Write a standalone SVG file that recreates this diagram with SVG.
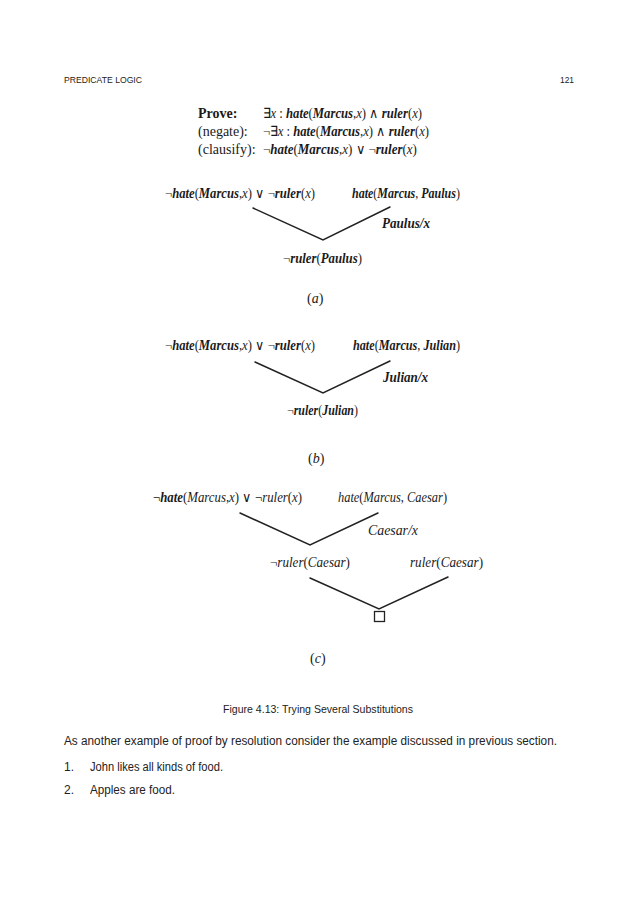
<svg xmlns="http://www.w3.org/2000/svg" width="638" height="903" viewBox="0 0 638 903">
<style>
.sans{font-family:"Liberation Sans",Arial,sans-serif;fill:#222}
.f{font-family:"Liberation Serif","Times New Roman",serif;font-size:14px;fill:#1a1a1a}
.i{font-style:italic}
.b{font-weight:bold}
.lbl{font-family:"Liberation Serif","Times New Roman",serif;font-size:14px;fill:#1a1a1a}
.edge{stroke:#222;stroke-width:1.5;fill:none;stroke-linecap:round}
</style>
<rect width="638" height="903" fill="#fff"/>
<g id="header">
<text class="sans" x="64" y="83" font-size="9.5" textLength="78" lengthAdjust="spacingAndGlyphs">PREDICATE LOGIC</text>
<text class="sans" x="560" y="83" font-size="9.5" textLength="14" lengthAdjust="spacingAndGlyphs">121</text>
</g>
<g id="prove">
<text class="lbl b" x="198" y="118">Prove:</text>
<text class="lbl" x="198" y="136">(negate):</text>
<text class="lbl" x="198" y="154">(clausify):</text>
<text class="f" transform="translate(263,118) scale(0.916,1)" textLength="173.6" lengthAdjust="spacingAndGlyphs">∃<tspan class="i">x</tspan> : <tspan class="i b">hate</tspan>(<tspan class="i b">Marcus</tspan>,<tspan class="i">x</tspan>) ∧ <tspan class="i b">ruler</tspan>(<tspan class="i">x</tspan>)</text>
<text class="f" transform="translate(263,136) scale(0.915,1)" textLength="181.4" lengthAdjust="spacingAndGlyphs">¬∃<tspan class="i">x</tspan> : <tspan class="i b">hate</tspan>(<tspan class="i b">Marcus</tspan>,<tspan class="i">x</tspan>) ∧ <tspan class="i b">ruler</tspan>(<tspan class="i">x</tspan>)</text>
<text class="f" transform="translate(263,154) scale(0.94,1)" textLength="163.8" lengthAdjust="spacingAndGlyphs">¬<tspan class="i b">hate</tspan>(<tspan class="i b">Marcus</tspan>,<tspan class="i">x</tspan>) ∨ ¬<tspan class="i b">ruler</tspan>(<tspan class="i">x</tspan>)</text>
</g>
<g id="connectors">
<polyline class="edge" points="253,208 323,240 390,207"/>
<polyline class="edge" points="255,362 323,393 390,361"/>
<polyline class="edge" points="240,513 310,545 378,513"/>
<polyline class="edge" points="310,578 379,609 448,577"/>
</g>
<g id="a-left"><text class="f" transform="translate(165,198) scale(0.915,1)" textLength="163.9" lengthAdjust="spacingAndGlyphs">¬<tspan class="i b">hate</tspan>(<tspan class="i b">Marcus</tspan>,<tspan class="i">x</tspan>) ∨ ¬<tspan class="i b">ruler</tspan>(<tspan class="i">x</tspan>)</text></g>
<g id="a-right"><text class="f" transform="translate(352,198) scale(0.85,1)" textLength="127" lengthAdjust="spacingAndGlyphs"><tspan class="i b">hate</tspan>(<tspan class="i b">Marcus</tspan>, <tspan class="i b">Paulus</tspan>)</text></g>
<g id="a-sub"><text class="f i b" transform="translate(382,228) scale(0.92,1)" textLength="52.2" lengthAdjust="spacingAndGlyphs">Paulus/x</text></g>
<g id="a-result"><text class="f" transform="translate(283,263) scale(0.906,1)" textLength="87.2" lengthAdjust="spacingAndGlyphs">¬<tspan class="i b">ruler</tspan>(<tspan class="i b">Paulus</tspan>)</text></g>
<g id="a-label"><text class="lbl" x="307" y="303">(<tspan class="i">a</tspan>)</text></g>
<g id="b-left"><text class="f" transform="translate(165,350) scale(0.915,1)" textLength="163.9" lengthAdjust="spacingAndGlyphs">¬<tspan class="i b">hate</tspan>(<tspan class="i b">Marcus</tspan>,<tspan class="i">x</tspan>) ∨ ¬<tspan class="i b">ruler</tspan>(<tspan class="i">x</tspan>)</text></g>
<g id="b-right"><text class="f" transform="translate(353,350) scale(0.87,1)" textLength="123" lengthAdjust="spacingAndGlyphs"><tspan class="i b">hate</tspan>(<tspan class="i b">Marcus</tspan>, <tspan class="i b">Julian</tspan>)</text></g>
<g id="b-sub"><text class="f i b" transform="translate(383,382) scale(0.93,1)" textLength="48.4" lengthAdjust="spacingAndGlyphs">Julian/x</text></g>
<g id="b-result"><text class="f" transform="translate(287,415) scale(0.85,1)" textLength="83.5" lengthAdjust="spacingAndGlyphs">¬<tspan class="i b">ruler</tspan>(<tspan class="i b">Julian</tspan>)</text></g>
<g id="b-label"><text class="lbl" x="308" y="463">(<tspan class="i">b</tspan>)</text></g>
<g id="c-left"><text class="f" transform="translate(153,502) scale(0.92,1)" textLength="162" lengthAdjust="spacingAndGlyphs">¬<tspan class="i b">hate</tspan>(<tspan class="i">Marcus</tspan>,<tspan class="i">x</tspan>) ∨ ¬<tspan class="i">ruler</tspan>(<tspan class="i">x</tspan>)</text></g>
<g id="c-right"><text class="f" transform="translate(338,502) scale(0.88,1)" textLength="123.9" lengthAdjust="spacingAndGlyphs"><tspan class="i">hate</tspan>(<tspan class="i">Marcus</tspan>, <tspan class="i">Caesar</tspan>)</text></g>
<g id="c-sub"><text class="f i" x="368" y="535" textLength="50" lengthAdjust="spacingAndGlyphs">Caesar/x</text></g>
<g id="c-result"><text class="f" transform="translate(270,567) scale(0.93,1)" textLength="86" lengthAdjust="spacingAndGlyphs">¬<tspan class="i">ruler</tspan>(<tspan class="i">Caesar</tspan>)</text></g>
<g id="c-ruler"><text class="f" transform="translate(410,567) scale(0.94,1)" textLength="77.7" lengthAdjust="spacingAndGlyphs"><tspan class="i">ruler</tspan>(<tspan class="i">Caesar</tspan>)</text></g>
<g id="c-empty"><rect x="374.5" y="611.5" width="10" height="10" fill="none" stroke="#222" stroke-width="1.3"/></g>
<g id="c-label"><text class="lbl" x="310" y="663">(<tspan class="i">c</tspan>)</text></g>
<g id="caption"><text class="sans" x="223" y="713" font-size="10.5" textLength="190" lengthAdjust="spacingAndGlyphs">Figure 4.13: Trying Several Substitutions</text></g>
<g id="body">
<text class="sans" x="64" y="745" font-size="12" textLength="493" lengthAdjust="spacingAndGlyphs">As another example of proof by resolution consider the example discussed in previous section.</text>
<text class="sans" x="64" y="771" font-size="12">1.</text>
<text class="sans" x="90" y="771" font-size="12" textLength="133" lengthAdjust="spacingAndGlyphs">John likes all kinds of food.</text>
<text class="sans" x="64" y="794" font-size="12">2.</text>
<text class="sans" x="90" y="794" font-size="12" textLength="85" lengthAdjust="spacingAndGlyphs">Apples are food.</text>
</g>
</svg>
